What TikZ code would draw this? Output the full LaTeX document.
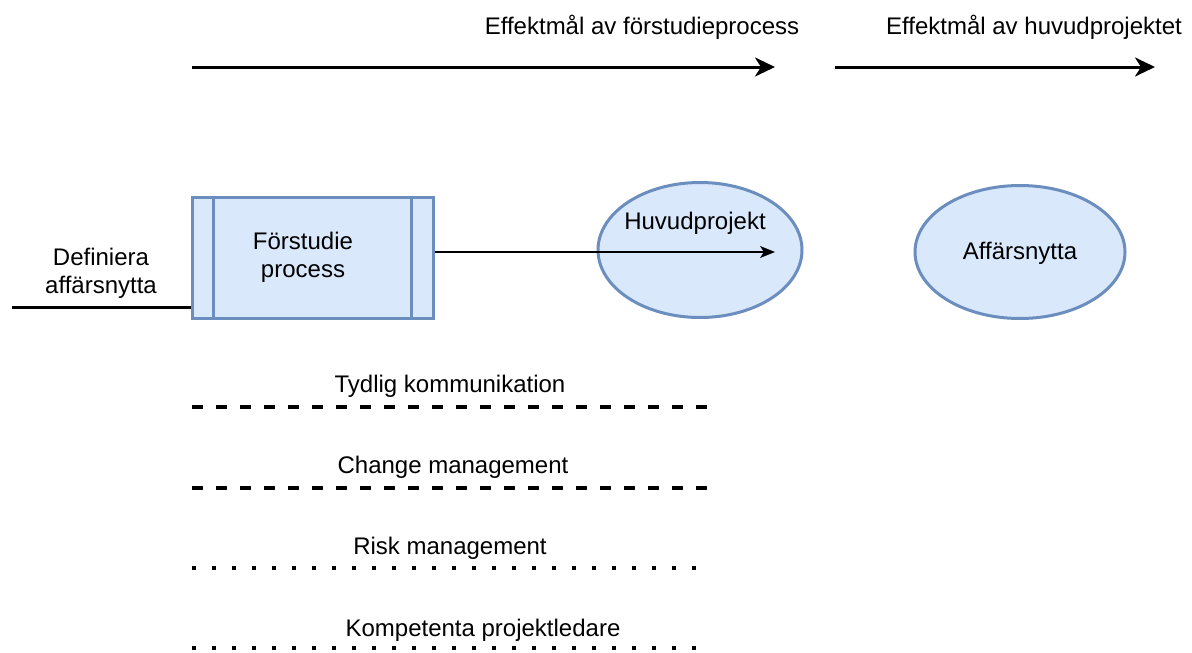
\documentclass[tikz,border=0pt]{standalone}
\usepackage{fontspec}
\setmainfont{Liberation Sans}
\usetikzlibrary{arrows.meta,shapes.geometric,positioning}
\definecolor{boxfill}{HTML}{DAE8FC}
\definecolor{boxline}{HTML}{6C8EBF}
\tikzset{>={Stealth[length=20pt,width=19pt,inset=6pt]}}

\begin{document}
\begin{tikzpicture}[x=1pt,y=-1pt,
	txt/.style={font=\fontsize{24}{28}\selectfont, inner sep=0pt, align=center},
	blue/.style={draw=boxline, fill=boxfill, line width=3pt},
	bigarrow/.style={->, line width=3pt},
	dashline/.style={line width=3.5pt, dash pattern=on 11pt off 13pt},
	dotline/.style={line width=3.5pt, dash pattern=on 3.5pt off 16.5pt}]
	\useasboundingbox (0,0) rectangle (1192,653);

	% effektmål
	\coordinate (e1s) at (192,67);
	\coordinate (e1e) at (775,67);
	\coordinate (e2s) at (835,67);
	\coordinate (e2e) at (1155,67);
	\node[txt] (e1txt) at (642,27) {Effektmål av förstudieprocess};
	\node[txt] (e2txt) at (1034,27) {Effektmål av huvudprojektet};
	\draw[bigarrow] (e1s) -- (e1e);
	\draw[bigarrow] (e2s) -- (e2e);

	% processen
	\node[blue, rectangle, minimum width=241pt, minimum height=121pt, inner sep=0pt] (proc) at (312.5,257.5) {};
	\node[txt] (proctxt) at (303,257) {Förstudie\\process};
	\draw[blue] ([xshift=23pt]proc.north west) -- ([xshift=23pt]proc.south west);
	\draw[blue] ([xshift=-23pt]proc.north east) -- ([xshift=-23pt]proc.south east);

	\node[blue, ellipse, minimum width=204pt, minimum height=135pt, inner sep=0pt] (hproj) at (700,250) {};
	\node[txt] (hprojtxt) at (695,223) {Huvudprojekt};
	\node[blue, ellipse, minimum width=210pt, minimum height=133pt, inner sep=0pt] (nytta) at (1020,252) {};
	\node[txt] (nyttatxt) at (1020,253) {Affärsnytta};

	\node[txt] (deftxt) at (101,273) {Definiera\\affärsnytta};
	\coordinate (defs) at (12,307);
	\draw[line width=3pt] (defs) -- (proc.west |- defs);

	\coordinate (hpend) at (775,252);
	\draw[->, line width=1.5pt, >={Stealth[length=15pt,width=12pt,inset=4pt]}] (proc.east |- hpend) -- (hpend);

	% faktorer
	\node[txt] (f1) at (450,386) {Tydlig kommunikation};
	\coordinate (f1s) at (192,407);
	\coordinate (f1e) at (712,407);
	\draw[dashline] (f1s) -- (f1e);

	\node[txt] (f2) at (453,467) {Change management};
	\coordinate (f2s) at (192,488);
	\coordinate (f2e) at (712,488);
	\draw[dashline] (f2s) -- (f2e);

	\node[txt] (f3) at (450,548) {Risk management};
	\coordinate (f3s) at (192,568);
	\coordinate (f3e) at (700,568);
	\draw[dotline] (f3s) -- (f3e);

	\node[txt] (f4) at (483,630) {Kompetenta projektledare};
	\coordinate (f4s) at (192,648);
	\coordinate (f4e) at (700,648);
	\draw[dotline] (f4s) -- (f4e);
\end{tikzpicture}
\end{document}
